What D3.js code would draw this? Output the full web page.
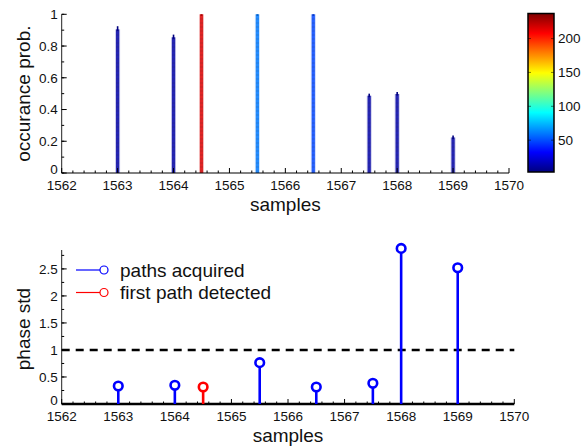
<!DOCTYPE html>
<html>
<head>
<meta charset="utf-8">
<script src="https://cdn.jsdelivr.net/npm/d3@7"></script>
<style>
  html, body { margin: 0; padding: 0; background: #fff; }
  svg { display: block; font-family: "Liberation Sans", Arial, sans-serif; }
</style>
</head>
<body>
<svg id="chart" width="582" height="447"></svg>
<script>
// ---- data ----
// occurrence probability per delay (top panel), coloured by count
const probSamples = [1563, 1564, 1564.5, 1565.5, 1566.5, 1567.5, 1568, 1569];
const probValues  = [0.905, 0.855, 1.0, 1.0, 1.0, 0.487, 0.498, 0.224];
const probTips    = [0.925, 0.872, 1.0, 1.0, 1.0, 0.500, 0.510, 0.236];
const probCounts  = [12, 12, 216, 60, 48, 12, 12, 12];
// phase std per acquired path (bottom panel)
const stdSamples  = [1563, 1564, 1564.5, 1565.5, 1566.5, 1567.5, 1568, 1569];
const stdValues   = [0.333, 0.346, 0.315, 0.765, 0.315, 0.383, 2.88, 2.52];
const stdFirst    = [false, false, true, false, false, false, false, false];
const threshold   = 1;
// ticks
const xTicks      = [1562, 1563, 1564, 1565, 1566, 1567, 1568, 1569, 1570];
const probTicks   = [0, 0.2, 0.4, 0.6, 0.8, 1];
const stdTicks    = [0, 0.5, 1, 1.5, 2, 2.5];
const cbarTicks   = [50, 100, 150, 200];
const cbarDomain  = [3, 237];
const legendItems = ["paths acquired", "first path detected"];

// jet colormap
function jet(t) {
  const c = v => Math.max(0, Math.min(1, v));
  const r = c(1.5 - Math.abs(4 * t - 3));
  const g = c(1.5 - Math.abs(4 * t - 2));
  const b = c(1.5 - Math.abs(4 * t - 1));
  return d3.rgb(r * 255, g * 255, b * 255).formatHex();
}
const cnorm = d3.scaleLinear().domain(cbarDomain).range([0, 1]).clamp(true);
const countColor = v => jet(cnorm(v));

const svg = d3.select("#chart");
const tickFont = "13.5px";
const labelFont = "19px";

// ---------------- top panel ----------------
const x1 = d3.scaleLinear().domain([1562, 1570]).range([61.7, 509]);
const y1 = d3.scaleLinear().domain([0, 1]).range([173, 14.3]);
const topPanel = svg.append("g");

// stripe pattern for each bar colour
const defs = svg.append("defs");
probCounts.forEach((v, i) => {
  const col = d3.color(countColor(v));
  const p = defs.append("pattern").attr("id", "stripe" + i)
    .attr("patternUnits", "userSpaceOnUse").attr("width", 6).attr("height", 4);
  p.append("rect").attr("width", 6).attr("height", 4).attr("fill", col.formatHex());
  p.append("rect").attr("y", 2).attr("width", 6).attr("height", 2)
    .attr("fill", col.darker(0.25).formatHex());
});

// light halo around each bar
topPanel.selectAll("rect.halo").data(probSamples).join("rect")
  .attr("class", "halo")
  .attr("x", d => x1(d) - 2.5).attr("width", 5)
  .attr("y", (d, i) => y1(probValues[i])).attr("height", (d, i) => y1(0) - y1(probValues[i]))
  .attr("fill", (d, i) => countColor(probCounts[i])).attr("opacity", 0.22);
topPanel.selectAll("rect.bar").data(probSamples).join("rect")
  .attr("class", "bar")
  .attr("x", d => x1(d) - 1.6).attr("width", 3.2)
  .attr("y", (d, i) => y1(probValues[i])).attr("height", (d, i) => y1(0) - y1(probValues[i]))
  .attr("fill", (d, i) => `url(#stripe${i})`).attr("opacity", 0.82);
// dark tips above the bars
topPanel.selectAll("line.tip").data(probSamples).join("line")
  .attr("class", "tip")
  .attr("x1", d => x1(d)).attr("x2", d => x1(d))
  .attr("y1", (d, i) => y1(probValues[i]) + 1.5)
  .attr("y2", (d, i) => y1(probTips[i]))
  .attr("stroke", (d, i) => d3.color(countColor(probCounts[i])).darker(0.8).formatHex())
  .attr("stroke-width", 1.6);

// axes (inward ticks, no box)
function drawAxes(g, xs, ys, yTicks, yMinorStep, xlw) {
  const [x0, xEnd] = xs.range();
  const [yb, yt] = ys.range();
  g.append("line").attr("x1", x0).attr("x2", x0).attr("y1", yb).attr("y2", yt)
    .attr("stroke", "#222").attr("stroke-width", 1);
  // x minor ticks
  const minorX = d3.range(0, 41).map(k => 1562 + k * 0.2).filter(v => Math.abs(v - Math.round(v)) > 1e-6);
  g.selectAll("line.xm").data(minorX).join("line")
    .attr("x1", d => xs(d)).attr("x2", d => xs(d)).attr("y1", yb).attr("y2", yb - 2.5)
    .attr("stroke", "#000").attr("stroke-width", 1);
  g.selectAll("line.xM").data(xTicks).join("line")
    .attr("x1", d => xs(d)).attr("x2", d => xs(d)).attr("y1", yb).attr("y2", yb - 5)
    .attr("stroke", "#000").attr("stroke-width", 1);
  g.selectAll("text.xt").data(xTicks).join("text")
    .attr("x", d => xs(d)).attr("y", yb + 17.3)
    .attr("text-anchor", "middle").attr("font-size", tickFont).attr("fill", "#111")
    .text(d => d);
  // y ticks
  const yMax = ys.domain()[1];
  const minorY = d3.range(0, Math.floor(yMax / yMinorStep + 1e-6) + 1).map(k => k * yMinorStep);
  g.selectAll("line.ym").data(minorY).join("line")
    .attr("x1", x0).attr("x2", x0 + 2.5).attr("y1", d => ys(d)).attr("y2", d => ys(d))
    .attr("stroke", "#000").attr("stroke-width", 1);
  g.selectAll("line.yM").data(yTicks).join("line")
    .attr("x1", x0).attr("x2", x0 + 5).attr("y1", d => ys(d)).attr("y2", d => ys(d))
    .attr("stroke", "#000").attr("stroke-width", 1);
  g.selectAll("text.yt").data(yTicks).join("text")
    .attr("x", x0 - 4).attr("y", d => ys(d)).attr("dy", d => d === 0 ? "0.1em" : "0.36em")
    .attr("text-anchor", "end").attr("font-size", tickFont).attr("fill", "#111")
    .text(d => d);
  g.append("line").attr("x1", x0).attr("x2", xEnd).attr("y1", yb).attr("y2", yb)
    .attr("stroke", "#000").attr("stroke-width", xlw);
}
drawAxes(topPanel, x1, y1, probTicks, 0.1, 1.2);

topPanel.append("text").attr("x", (x1.range()[0] + x1.range()[1]) / 2).attr("y", 211)
  .attr("text-anchor", "middle").attr("font-size", labelFont).attr("fill", "#111").text("samples");
topPanel.append("text").attr("transform", `translate(30,${(y1.range()[0] + y1.range()[1]) / 2}) rotate(-90)`)
  .attr("text-anchor", "middle").attr("font-size", labelFont).attr("fill", "#111").text("occurance prob.");

// colour bar
const cb = { x: 528, w: 26 };
const cy = d3.scaleLinear().domain(cbarDomain).range([172, 13.5]);
const grad = defs.append("linearGradient").attr("id", "jetgrad")
  .attr("x1", 0).attr("y1", 1).attr("x2", 0).attr("y2", 0);
grad.selectAll("stop").data(d3.range(0, 65)).join("stop")
  .attr("offset", d => d / 64).attr("stop-color", d => jet(d / 64));
svg.append("rect").attr("x", cb.x).attr("y", cy(cbarDomain[1])).attr("width", cb.w)
  .attr("height", cy(cbarDomain[0]) - cy(cbarDomain[1]))
  .attr("fill", "url(#jetgrad)").attr("stroke", "#000").attr("stroke-width", 1.5);
svg.selectAll("line.cbl").data(cbarTicks).join("line")
  .attr("x1", cb.x).attr("x2", cb.x + 3).attr("y1", d => cy(d)).attr("y2", d => cy(d))
  .attr("stroke", "#000").attr("stroke-opacity", 0.5);
svg.selectAll("line.cbr").data(cbarTicks).join("line")
  .attr("x1", cb.x + cb.w - 3).attr("x2", cb.x + cb.w).attr("y1", d => cy(d)).attr("y2", d => cy(d))
  .attr("stroke", "#000").attr("stroke-opacity", 0.5);
svg.selectAll("text.cbt").data(cbarTicks).join("text")
  .attr("x", cb.x + cb.w + 4).attr("y", d => cy(d)).attr("dy", "0.36em")
  .attr("font-size", tickFont).attr("fill", "#111").text(d => d);

// ---------------- bottom panel ----------------
const x2 = d3.scaleLinear().domain([1562, 1570]).range([61.7, 514.3]);
const y2 = d3.scaleLinear().domain([0, 2.85]).range([404, 250]);
const bot = svg.append("g");

// threshold line
bot.append("line").attr("x1", x2.range()[0]).attr("x2", x2.range()[1])
  .attr("y1", y2(threshold)).attr("y2", y2(threshold))
  .attr("stroke", "#000").attr("stroke-width", 2.5).attr("stroke-dasharray", "8,6");

drawAxes(bot, x2, y2, stdTicks, 0.25, 2.6);

const stemColor = i => stdFirst[i] ? "#ff0000" : "#0000ff";
bot.selectAll("line.stem").data(stdSamples).join("line")
  .attr("class", "stem")
  .attr("x1", d => x2(d)).attr("x2", d => x2(d))
  .attr("y1", y2(0)).attr("y2", (d, i) => y2(stdValues[i]))
  .attr("stroke", (d, i) => stemColor(i)).attr("stroke-width", 2.6);
bot.selectAll("circle.head").data(stdSamples).join("circle")
  .attr("class", "head")
  .attr("cx", d => x2(d)).attr("cy", (d, i) => y2(stdValues[i])).attr("r", 4.3)
  .attr("fill", "#fff").attr("stroke", (d, i) => stemColor(i)).attr("stroke-width", 2.6);

// legend
const leg = bot.append("g");
legendItems.forEach((t, i) => {
  const ly = 270 + i * 22.5;
  const col = i === 0 ? "#0000ff" : "#ff0000";
  leg.append("line").attr("x1", 76).attr("x2", 100).attr("y1", ly).attr("y2", ly)
    .attr("stroke", col).attr("stroke-width", 1.2);
  leg.append("circle").attr("cx", 104).attr("cy", ly).attr("r", 4)
    .attr("fill", "#fff").attr("stroke", col).attr("stroke-width", 1.2);
  leg.append("text").attr("x", 120).attr("y", ly + 6.5)
    .attr("font-size", labelFont).attr("fill", "#111").text(t);
});

bot.append("text").attr("x", (x2.range()[0] + x2.range()[1]) / 2).attr("y", 442)
  .attr("text-anchor", "middle").attr("font-size", labelFont).attr("fill", "#111").text("samples");
bot.append("text").attr("transform", `translate(30,${329}) rotate(-90)`)
  .attr("text-anchor", "middle").attr("font-size", labelFont).attr("fill", "#111").text("phase std");
</script>
</body>
</html>
